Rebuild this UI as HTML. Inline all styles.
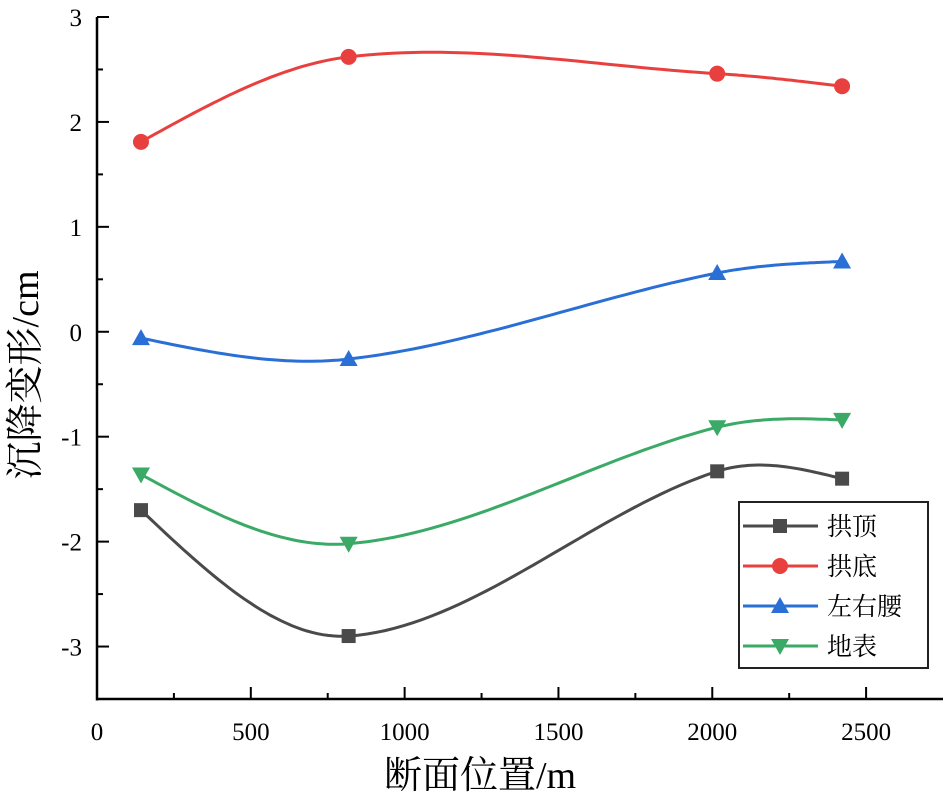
<!DOCTYPE html>
<html><head><meta charset="utf-8"><style>
html,body{margin:0;padding:0;background:#fff;}
svg{display:block;}
text{font-family:"Liberation Serif","Noto Serif CJK SC",serif;fill:#000;}
</style></head><body>
<svg id="chart" width="947" height="798"></svg>
<script>
const xPositions = [143, 818, 2016, 2422];
const seriesNames = ["拱顶", "拱底", "左右腰", "地表"];
const vaultTop = [-1.70, -2.90, -1.33, -1.40];
const vaultBottom = [1.81, 2.62, 2.46, 2.34];
const sideWalls = [-0.06, -0.26, 0.56, 0.67];
const surface = [-1.36, -2.02, -0.91, -0.84];
const xTicks = [0, 500, 1000, 1500, 2000, 2500];
const yTicks = [-3, -2, -1, 0, 1, 2, 3];

const NS = "http://www.w3.org/2000/svg";
const svg = document.getElementById("chart");
const L = 97, R = 943, T = 17, B = 699;
const xMin = 0, xMax = 2750, yMin = -3.5, yMax = 3;
const sx = v => L + (v - xMin) / (xMax - xMin) * (R - L);
const sy = v => B - (v - yMin) / (yMax - yMin) * (B - T);
function mk(tag, attrs, parent) {
  const e = document.createElementNS(NS, tag);
  for (const k in attrs) e.setAttribute(k, attrs[k]);
  (parent || svg).appendChild(e);
  return e;
}
function curve(xs, ys) {
  const n = xs.length, m = [];
  for (let i = 1; i < n - 1; i++) m[i] = (ys[i + 1] - ys[i - 1]) / (xs[i + 1] - xs[i - 1]);
  m[0] = 1.5 * (ys[1] - ys[0]) / (xs[1] - xs[0]) - 0.5 * m[1];
  m[n - 1] = 1.5 * (ys[n - 1] - ys[n - 2]) / (xs[n - 1] - xs[n - 2]) - 0.5 * m[n - 2];
  const pts = [];
  for (let j = 0; j < n - 1; j++) {
    const h = xs[j + 1] - xs[j];
    for (let s = 0; s <= 40; s++) {
      const t = s / 40, t2 = t * t, t3 = t2 * t;
      const y = (2 * t3 - 3 * t2 + 1) * ys[j] + (t3 - 2 * t2 + t) * h * m[j] + (-2 * t3 + 3 * t2) * ys[j + 1] + (t3 - t2) * h * m[j + 1];
      pts.push(sx(xs[j] + t * h).toFixed(1) + "," + sy(y).toFixed(1));
    }
  }
  return pts.join(" ");
}
function marker(kind, x, y, color, parent) {
  let m;
  if (kind === 0) m = mk("rect", {x: x - 7, y: y - 7, width: 14, height: 14, fill: color}, parent);
  else if (kind === 1) m = mk("circle", {cx: x, cy: y, r: 8, fill: color}, parent);
  else if (kind === 2) m = mk("polygon", {points: `${x},${y - 9} ${x - 9},${y + 7} ${x + 9},${y + 7}`, fill: color}, parent);
  else m = mk("polygon", {points: `${x},${y + 9} ${x - 9},${y - 7} ${x + 9},${y - 7}`, fill: color}, parent);
  return m;
}
const axes = mk("g", {});


mk("line", {x1: L, y1: T, x2: L, y2: B + 1.5, stroke: "#000", "stroke-width": 2.5}, axes);
mk("line", {x1: L - 1, y1: B, x2: R, y2: B, stroke: "#000", "stroke-width": 2.5}, axes);
xTicks.forEach(v => {
  mk("line", {x1: sx(v), y1: B, x2: sx(v), y2: B - 12, stroke: "#000", "stroke-width": 2}, axes);
  const m = v + 250;
  if (sx(m) < R) mk("line", {x1: sx(m), y1: B, x2: sx(m), y2: B - 6, stroke: "#000", "stroke-width": 2}, axes);
  const t = mk("text", {x: sx(v), y: 740, "font-size": 25, "text-anchor": "middle"}, axes);
  t.textContent = v;
  
  
});
yTicks.forEach(v => {
  mk("line", {x1: L, y1: sy(v), x2: L + 12, y2: sy(v), stroke: "#000", "stroke-width": 2}, axes);
  if (v - 0.5 >= yMin) mk("line", {x1: L, y1: sy(v - 0.5), x2: L + 6, y2: sy(v - 0.5), stroke: "#000", "stroke-width": 2}, axes);
  const t = mk("text", {x: 82, y: sy(v) + 9, "font-size": 25, "text-anchor": "end"}, axes);
  t.textContent = v;
  
  
});
const xt = mk("text", {x: 480, y: 788, "font-size": 38, "text-anchor": "middle"});
xt.textContent = "断面位置/m";


const yt = mk("text", {x: 0, y: 0, "font-size": 38, "text-anchor": "middle", transform: "translate(38,375) rotate(-90)"});
yt.textContent = "沉降变形/cm";



const allSeries = [vaultTop, vaultBottom, sideWalls, surface];
const colors = ["#4a4a4a", "#e8403f", "#2a6fd6", "#3aaa66"];
allSeries.forEach((vals, k) => {
  const g = mk("g", {});
  
  
  mk("polyline", {points: curve(xPositions, vals), fill: "none", stroke: colors[k], "stroke-width": 3}, g);
  vals.forEach((v, i) => {
    const m = marker(k, sx(xPositions[i]), sy(v), colors[k], g);
    
    
  });
});

const lg = mk("g", {});


mk("rect", {x: 739, y: 502, width: 189, height: 166, fill: "#fff", stroke: "#222", "stroke-width": 2}, lg);
const rows = [526, 566, 606, 646];
seriesNames.forEach((name, k) => {
  const y = rows[k];
  mk("line", {x1: 743, y1: y, x2: 818, y2: y, stroke: colors[k], "stroke-width": 3}, lg);
  marker(k, 780, y, colors[k], lg);
  const t = mk("text", {x: 827, y: y + 9, "font-size": 25}, lg);
  t.textContent = name;
  
  
});
</script>
</body></html>
